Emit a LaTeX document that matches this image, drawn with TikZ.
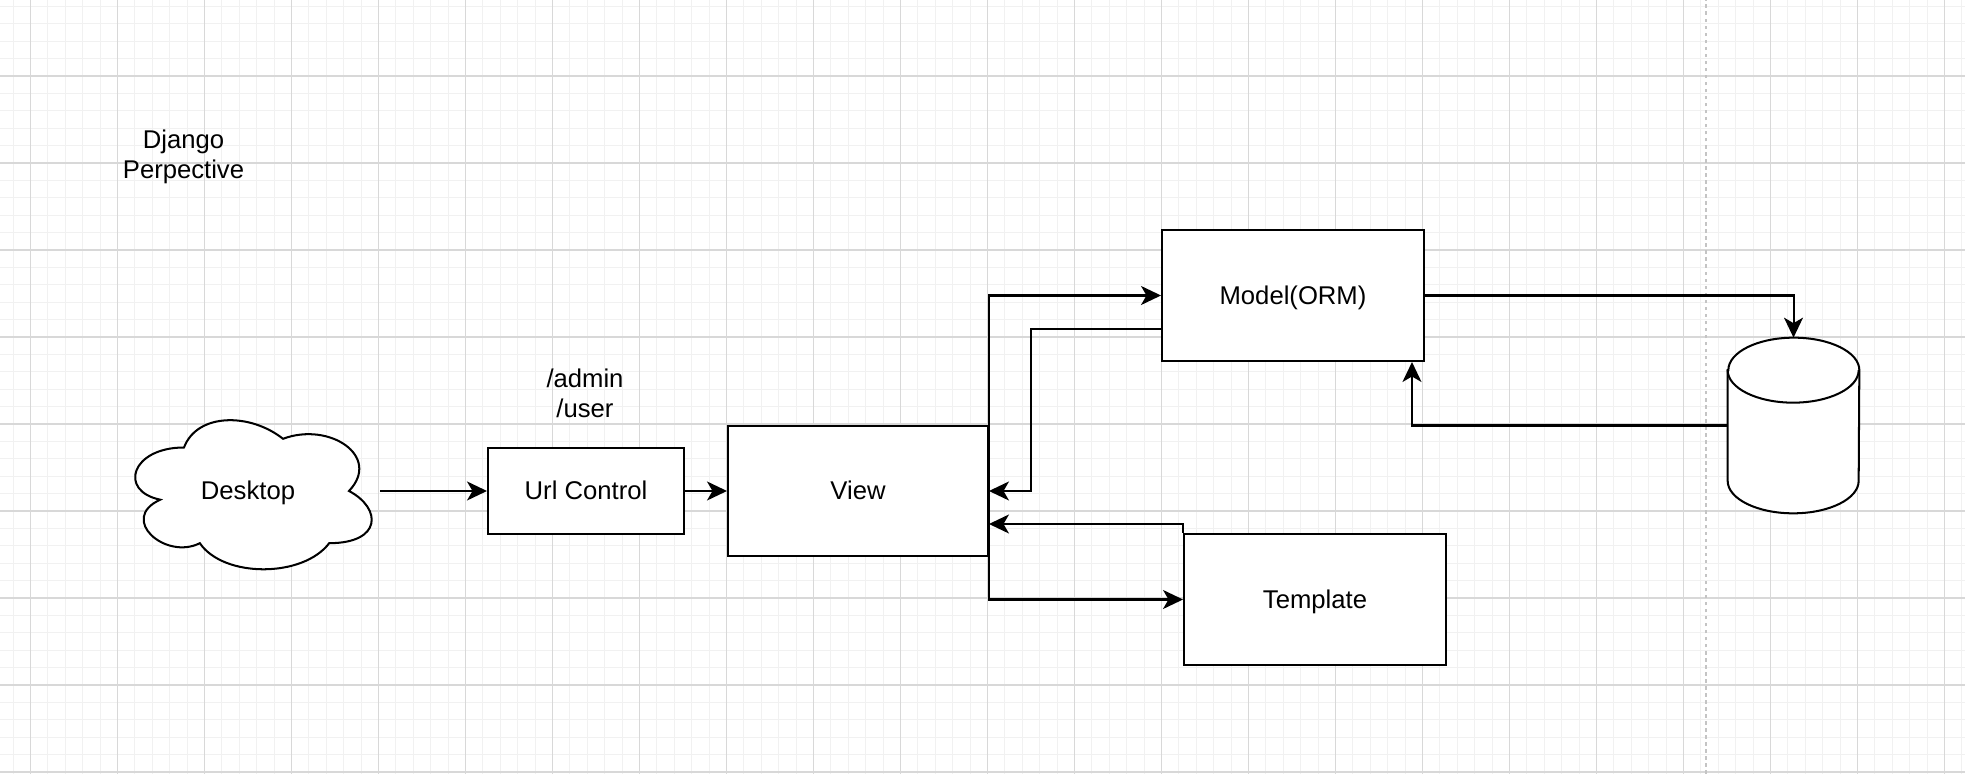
\documentclass[tikz,border=0pt]{standalone}
\usepackage{fontspec}
\setmainfont{Liberation Sans}
\usetikzlibrary{positioning, calc, arrows.meta}
\definecolor{GridMajor}{RGB}{216,216,216}
\definecolor{GridMinor}{RGB}{241,241,241}
\definecolor{PageBreak}{RGB}{196,196,196}

\begin{document}
\begin{tikzpicture}[x=0.02cm, y=0.02cm,
    drawn/.style={draw=black, line width=1.15pt},
    box/.style={drawn, fill=white, rectangle, inner sep=0pt, text height=13.1pt, text depth=3.1pt, font=\fontsize{14.6}{17}\selectfont},
    plaintext/.style={align=center, inner sep=0pt, font=\fontsize{14.6}{17}\selectfont},
    flow/.style={drawn, -{Stealth[length=4mm, width=3.8mm, inset=1.1mm]}}]
    \useasboundingbox (0,0) rectangle (1965,774);

    % Grid
    \fill[white] (0,0) rectangle (1965,774);
    \foreach \i in {0,...,112}
        \draw[GridMinor, line width=0.5pt] ({13.1+17.4*\i},0) -- ++(0,774);
    \foreach \j in {0,...,44}
        \draw[GridMinor, line width=0.5pt] (0,{2+17.4*\j}) -- ++(1965,0);
    \foreach \i in {0,...,22}
        \draw[GridMajor, line width=0.6pt] ({30.5+87*\i},0) -- ++(0,774);
    \foreach \j in {0,...,8}
        \draw[GridMajor, line width=0.6pt] (0,{2+87*\j}) -- ++(1965,0);

    % Page break
    \draw[PageBreak, line width=0.6pt, dash pattern=on 2pt off 2pt] (1706,0) -- (1706,774);

    % Title
    \node[plaintext] (title) at (183.5,617) {Django\\Perpective};

    % Desktop
    \begin{scope}[shift={(118,370)}, xscale=264, yscale=-174]
        \draw[drawn, fill=white] (0.25,0.25) .. controls (0.05,0.25) and (0,0.5) .. (0.16,0.55)
            .. controls (0,0.66) and (0.18,0.9) .. (0.31,0.8)
            .. controls (0.4,1) and (0.7,1) .. (0.8,0.8)
            .. controls (1,0.8) and (1,0.6) .. (0.875,0.5)
            .. controls (1,0.3) and (0.8,0.1) .. (0.625,0.2)
            .. controls (0.5,0.05) and (0.3,0.05) .. (0.25,0.25) -- cycle;
    \end{scope}
    \node[plaintext, text height=13.1pt, text depth=3.1pt, minimum width=5.28cm, minimum height=3.48cm] (desktop) at (248,283) {Desktop};

    % Url Control
    \node[box, minimum width=3.92cm, minimum height=1.72cm] (url) at (586,283) {Url Control};
    \node[plaintext] (routes) at (585,381) {/admin\\/user};

    % View
    \node[box, minimum width=5.2cm, minimum height=2.6cm] (view) at (858,283) {View};

    % Model
    \node[box, minimum width=5.24cm, minimum height=2.62cm] (model) at (1293,478.5) {Model(ORM)};

    % Template
    \node[box, minimum width=5.24cm, minimum height=2.62cm] (template) at (1315,174.5) {Template};

    % Database
    \node[inner sep=0pt, minimum width=2.62cm, minimum height=3.5cm] (db) at (1793.5,348.5) {};
    \draw[drawn, fill=white] ($(db.north west)+(0,-32.5)$) -- ($(db.south west)+(0,32.5)$)
        arc[start angle=180, end angle=360, x radius=65.5, y radius=32.5]
        -- ($(db.north east)+(0,-32.5)$)
        arc[start angle=0, end angle=180, x radius=65.5, y radius=32.5] -- cycle;
    \draw[drawn] ($(db.north west)+(0,-32.5)$) arc[start angle=180, end angle=360, x radius=65.5, y radius=32.5];

    % Arrows
    \draw[flow] (desktop.east) -- (url.west);
    \draw[flow] (url.east) -- (view.west);
    \draw[flow] (view.east) |- (model.west);
    \draw[flow] ($(model.south west)!0.25!(model.north west)$) -- ++(-130,0) |- (view.east);
    \draw[flow] (template.north west) |- ($(view.south east)!0.25!(view.north east)$);
    \draw[flow] (view.east) |- (template.west);
    \draw[flow] (model.east) -| (db.north);
    \draw[flow] (db.west) -| ($(model.south east)+(-13,0)$);
\end{tikzpicture}
\end{document}
